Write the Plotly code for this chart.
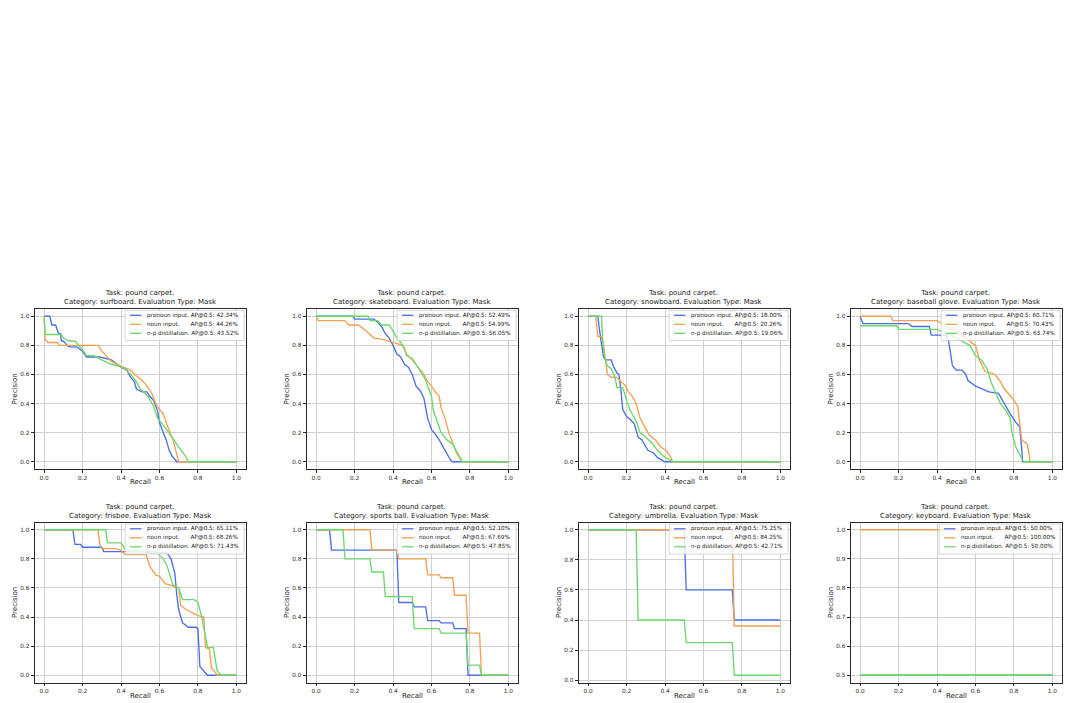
import plotly.graph_objects as go

# ---------------- data ----------------
task_name = "pound carpet"
categories = ["surfboard", "skateboard", "snowboard", "baseball glove",
              "frisbee", "sports ball", "umbrella", "keyboard"]
series_names = ["pronoun input.", "noun input.", "n-p distillation."]

ap_pronoun = [42.34, 52.49, 18.00, 60.71, 65.11, 52.10, 75.25, 50.00]
ap_noun = [44.26, 54.99, 20.26, 70.43, 68.26, 67.69, 84.25, 100.00]
ap_np = [43.52, 56.05, 19.06, 63.74, 71.43, 47.85, 42.71, 50.00]

# surfboard
surfboard_pronoun_r = [0, 0.03, 0.04, 0.06, 0.075, 0.085, 0.09, 0.1, 0.12, 0.13, 0.17, 0.19, 0.2, 0.22, 0.29, 0.35, 0.4, 0.43, 0.45, 0.47, 0.48, 0.51, 0.535, 0.55, 0.57, 0.59, 0.6, 0.62, 0.635, 0.65, 0.665, 0.69, 1.0]
surfboard_pronoun_p = [1.0, 1.0, 0.94, 0.94, 0.88, 0.88, 0.83, 0.83, 0.80, 0.79, 0.79, 0.77, 0.76, 0.72, 0.72, 0.70, 0.65, 0.63, 0.58, 0.55, 0.50, 0.48, 0.48, 0.45, 0.42, 0.35, 0.27, 0.20, 0.15, 0.08, 0.04, 0.0, 0.0]
surfboard_noun_r = [0, 0.005, 0.02, 0.07, 0.08, 0.12, 0.2, 0.28, 0.30, 0.32, 0.33, 0.35, 0.38, 0.41, 0.45, 0.47, 0.5, 0.53, 0.56, 0.58, 0.6, 0.62, 0.64, 0.67, 0.69, 0.70, 1.0]
surfboard_noun_p = [1.0, 0.84, 0.82, 0.82, 0.80, 0.80, 0.80, 0.80, 0.76, 0.73, 0.72, 0.69, 0.67, 0.65, 0.63, 0.60, 0.57, 0.53, 0.47, 0.40, 0.36, 0.33, 0.25, 0.15, 0.05, 0.0, 0.0]
surfboard_np_r = [0, 0.005, 0.09, 0.1, 0.13, 0.16, 0.18, 0.2, 0.22, 0.26, 0.3, 0.33, 0.38, 0.42, 0.45, 0.48, 0.5, 0.54, 0.57, 0.59, 0.62, 0.66, 0.7, 0.74, 0.75, 1.0]
surfboard_np_p = [1.0, 0.875, 0.875, 0.85, 0.83, 0.83, 0.80, 0.77, 0.73, 0.73, 0.70, 0.68, 0.66, 0.64, 0.60, 0.55, 0.50, 0.45, 0.38, 0.30, 0.25, 0.18, 0.10, 0.03, 0.0, 0.0]

# skateboard
skateboard_pronoun_r = [0, 0.19, 0.2, 0.3, 0.32, 0.34, 0.36, 0.38, 0.40, 0.42, 0.44, 0.46, 0.48, 0.5, 0.52, 0.54, 0.56, 0.57, 0.58, 0.6, 0.62, 0.64, 0.66, 0.68, 0.7, 0.71, 1.0]
skateboard_pronoun_p = [1.0, 1.0, 0.98, 0.98, 0.96, 0.93, 0.88, 0.85, 0.80, 0.74, 0.72, 0.67, 0.65, 0.60, 0.52, 0.49, 0.44, 0.38, 0.30, 0.22, 0.19, 0.15, 0.10, 0.05, 0.01, 0.0, 0.0]
skateboard_noun_r = [0, 0.01, 0.15, 0.17, 0.22, 0.26, 0.3, 0.35, 0.4, 0.45, 0.47, 0.5, 0.53, 0.56, 0.58, 0.6, 0.62, 0.64, 0.65, 0.67, 0.69, 0.71, 0.73, 0.75, 0.76, 1.0]
skateboard_noun_p = [1.0, 0.97, 0.97, 0.94, 0.94, 0.90, 0.85, 0.84, 0.82, 0.80, 0.74, 0.70, 0.65, 0.60, 0.55, 0.52, 0.48, 0.45, 0.37, 0.30, 0.20, 0.13, 0.06, 0.02, 0.0, 0.0]
skateboard_np_r = [0, 0.27, 0.28, 0.32, 0.34, 0.38, 0.4, 0.42, 0.44, 0.46, 0.47, 0.5, 0.52, 0.55, 0.57, 0.58, 0.6, 0.61, 0.63, 0.65, 0.68, 0.71, 0.74, 0.75, 0.76, 1.0]
skateboard_np_p = [1.0, 1.0, 0.97, 0.97, 0.94, 0.94, 0.90, 0.85, 0.82, 0.78, 0.73, 0.71, 0.67, 0.60, 0.56, 0.52, 0.45, 0.35, 0.28, 0.20, 0.15, 0.12, 0.05, 0.02, 0.0, 0.0]

# snowboard
snowboard_pronoun_r = [0, 0.05, 0.065, 0.08, 0.09, 0.12, 0.13, 0.15, 0.16, 0.17, 0.18, 0.2, 0.22, 0.24, 0.26, 0.28, 0.31, 0.34, 0.36, 0.40, 1.0]
snowboard_pronoun_p = [1.0, 1.0, 0.85, 0.72, 0.70, 0.70, 0.66, 0.61, 0.60, 0.50, 0.36, 0.31, 0.29, 0.26, 0.17, 0.15, 0.08, 0.06, 0.03, 0.0, 0.0]
snowboard_noun_r = [0, 0.04, 0.05, 0.07, 0.08, 0.10, 0.12, 0.15, 0.17, 0.19, 0.21, 0.23, 0.25, 0.27, 0.29, 0.32, 0.35, 0.38, 0.41, 0.43, 0.44, 1.0]
snowboard_noun_p = [1.0, 1.0, 0.86, 0.86, 0.80, 0.60, 0.58, 0.58, 0.55, 0.53, 0.48, 0.45, 0.40, 0.30, 0.25, 0.18, 0.15, 0.10, 0.07, 0.03, 0.0, 0.0]
snowboard_np_r = [0, 0.07, 0.075, 0.085, 0.10, 0.12, 0.14, 0.15, 0.18, 0.20, 0.22, 0.25, 0.27, 0.30, 0.33, 0.36, 0.39, 0.44, 1.0]
snowboard_np_p = [1.0, 1.0, 0.85, 0.72, 0.66, 0.64, 0.58, 0.51, 0.51, 0.42, 0.35, 0.28, 0.20, 0.17, 0.13, 0.08, 0.04, 0.0, 0.0]

# baseball glove
glove_pronoun_r = [0, 0.015, 0.25, 0.27, 0.36, 0.37, 0.45, 0.46, 0.47, 0.48, 0.5, 0.53, 0.55, 0.56, 0.6, 0.64, 0.67, 0.72, 0.74, 0.76, 0.78, 0.81, 0.83, 0.84, 0.845, 1.0]
glove_pronoun_p = [1.0, 0.95, 0.95, 0.93, 0.93, 0.87, 0.87, 0.83, 0.75, 0.66, 0.63, 0.63, 0.60, 0.56, 0.52, 0.50, 0.48, 0.47, 0.42, 0.38, 0.33, 0.27, 0.24, 0.10, 0.0, 0.0]
glove_noun_r = [0, 0.16, 0.17, 0.4, 0.45, 0.5, 0.55, 0.6, 0.62, 0.65, 0.7, 0.73, 0.75, 0.79, 0.82, 0.84, 0.87, 0.885, 1.0]
glove_noun_p = [1.0, 1.0, 0.97, 0.97, 0.93, 0.90, 0.85, 0.80, 0.70, 0.62, 0.60, 0.55, 0.50, 0.44, 0.38, 0.15, 0.12, 0.0, 0.0]
glove_np_r = [0, 0.19, 0.2, 0.4, 0.45, 0.5, 0.57, 0.6, 0.63, 0.66, 0.68, 0.71, 0.73, 0.76, 0.78, 0.79, 0.81, 0.83, 0.85, 1.0]
glove_np_p = [0.935, 0.935, 0.91, 0.91, 0.88, 0.85, 0.80, 0.73, 0.70, 0.64, 0.55, 0.46, 0.40, 0.35, 0.30, 0.20, 0.10, 0.05, 0.0, 0.0]

# frisbee
frisbee_pronoun_r = [0, 0.15, 0.16, 0.19, 0.2, 0.3, 0.31, 0.52, 0.55, 0.64, 0.66, 0.68, 0.69, 0.7, 0.72, 0.75, 0.79, 0.80, 0.81, 0.83, 0.85, 1.0]
frisbee_pronoun_p = [1.0, 1.0, 0.90, 0.90, 0.88, 0.88, 0.85, 0.85, 0.84, 0.84, 0.80, 0.70, 0.55, 0.45, 0.36, 0.33, 0.33, 0.32, 0.06, 0.03, 0.0, 0.0]
frisbee_noun_r = [0, 0.28, 0.29, 0.30, 0.37, 0.40, 0.42, 0.53, 0.55, 0.58, 0.60, 0.63, 0.68, 0.70, 0.71, 0.74, 0.77, 0.80, 0.83, 0.84, 0.86, 0.87, 0.89, 0.90, 1.0]
frisbee_noun_p = [1.0, 1.0, 0.90, 0.87, 0.87, 0.86, 0.83, 0.83, 0.75, 0.69, 0.68, 0.63, 0.61, 0.60, 0.48, 0.45, 0.43, 0.41, 0.40, 0.19, 0.18, 0.05, 0.02, 0.0, 0.0]
frisbee_np_r = [0, 0.32, 0.33, 0.40, 0.42, 0.45, 0.58, 0.62, 0.64, 0.67, 0.70, 0.72, 0.78, 0.80, 0.82, 0.85, 0.88, 0.90, 0.92, 1.0]
frisbee_np_p = [1.0, 1.0, 0.91, 0.91, 0.87, 0.85, 0.85, 0.80, 0.75, 0.62, 0.60, 0.52, 0.52, 0.50, 0.40, 0.19, 0.19, 0.03, 0.0, 0.0]

# sports ball
ball_pronoun_r = [0, 0.07, 0.08, 0.42, 0.43, 0.50, 0.51, 0.57, 0.58, 0.64, 0.65, 0.71, 0.72, 0.78, 0.79, 1.0]
ball_pronoun_p = [1.0, 1.0, 0.86, 0.86, 0.50, 0.50, 0.47, 0.47, 0.375, 0.375, 0.36, 0.36, 0.32, 0.32, 0.0, 0.0]
ball_noun_r = [0, 0.28, 0.29, 0.42, 0.43, 0.57, 0.58, 0.64, 0.65, 0.71, 0.72, 0.78, 0.79, 0.85, 0.86, 1.0]
ball_noun_p = [1.0, 1.0, 0.86, 0.86, 0.80, 0.80, 0.69, 0.69, 0.67, 0.67, 0.55, 0.55, 0.29, 0.29, 0.0, 0.0]
ball_np_r = [0, 0.14, 0.15, 0.28, 0.29, 0.35, 0.36, 0.50, 0.51, 0.64, 0.65, 0.78, 0.79, 0.85, 0.86, 1.0]
ball_np_p = [1.0, 1.0, 0.80, 0.80, 0.71, 0.71, 0.54, 0.54, 0.32, 0.32, 0.29, 0.29, 0.07, 0.07, 0.0, 0.0]

# umbrella
umbrella_pronoun_r = [0, 0.50, 0.51, 0.75, 0.76, 1.0]
umbrella_pronoun_p = [1.0, 1.0, 0.60, 0.60, 0.40, 0.40]
umbrella_noun_r = [0, 0.75, 0.76, 1.0]
umbrella_noun_p = [1.0, 1.0, 0.36, 0.36]
umbrella_np_r = [0, 0.25, 0.26, 0.50, 0.51, 0.75, 0.76, 1.0]
umbrella_np_p = [1.0, 1.0, 0.40, 0.40, 0.25, 0.25, 0.033, 0.033]

# keyboard
keyboard_pronoun_r = [0, 1.0]
keyboard_pronoun_p = [0.5, 0.5]
keyboard_noun_r = [0, 1.0]
keyboard_noun_p = [1.0, 1.0]
keyboard_np_r = [0, 1.0]
keyboard_np_p = [0.5, 0.5]

x_ticks = [0.0, 0.2, 0.4, 0.6, 0.8, 1.0]
y_ticks = [0.0, 0.2, 0.4, 0.6, 0.8, 1.0]
y_ticks_keyboard = [0.5, 0.6, 0.7, 0.8, 0.9, 1.0]

curves = [
    [(surfboard_pronoun_r, surfboard_pronoun_p), (surfboard_noun_r, surfboard_noun_p), (surfboard_np_r, surfboard_np_p)],
    [(skateboard_pronoun_r, skateboard_pronoun_p), (skateboard_noun_r, skateboard_noun_p), (skateboard_np_r, skateboard_np_p)],
    [(snowboard_pronoun_r, snowboard_pronoun_p), (snowboard_noun_r, snowboard_noun_p), (snowboard_np_r, snowboard_np_p)],
    [(glove_pronoun_r, glove_pronoun_p), (glove_noun_r, glove_noun_p), (glove_np_r, glove_np_p)],
    [(frisbee_pronoun_r, frisbee_pronoun_p), (frisbee_noun_r, frisbee_noun_p), (frisbee_np_r, frisbee_np_p)],
    [(ball_pronoun_r, ball_pronoun_p), (ball_noun_r, ball_noun_p), (ball_np_r, ball_np_p)],
    [(umbrella_pronoun_r, umbrella_pronoun_p), (umbrella_noun_r, umbrella_noun_p), (umbrella_np_r, umbrella_np_p)],
    [(keyboard_pronoun_r, keyboard_pronoun_p), (keyboard_noun_r, keyboard_noun_p), (keyboard_np_r, keyboard_np_p)],
]
ap_values = list(zip(ap_pronoun, ap_noun, ap_np))

# ---------------- styling ----------------
W, H = 1066, 703
COLORS = ["#4a6fe3", "#f4a052", "#6cd86c"]
FONT = "DejaVu Sans"
TXT = "#1a1a1a"
col_left = [34.5, 306.5, 578.5, 850.5]
row_top = [309.0, 522.5]
AX_W, AX_H = 211.5, 160.0
NB = "\u00a0"
label_pad = [NB, NB * 6, NB]


def px(x):
    return x / W


def py(y):
    return 1 - y / H


def y_range(vals):
    lo = min(min(p) for _, p in vals)
    hi = max(max(p) for _, p in vals)
    m = (hi - lo) * 0.05
    return [lo - m, hi + m]


fig = go.Figure()
shapes = []
annotations = []
layout_axes = {}

for i, cat in enumerate(categories):
    r, c = divmod(i, 4)
    n = "" if i == 0 else str(i + 1)
    L, T = col_left[c], row_top[r]
    R, B = L + AX_W, T + AX_H

    for k in range(3):
        rec, prec = curves[i][k]
        fig.add_trace(go.Scatter(
            x=rec, y=prec, mode="lines", xaxis="x" + n, yaxis="y" + n,
            line=dict(color=COLORS[k], width=1.35), showlegend=False,
            hoverinfo="skip"))

    yr = y_range(curves[i])
    yt = y_ticks_keyboard if cat == "keyboard" else y_ticks
    common = dict(showline=True, mirror=True, linecolor="#2a2a2a", linewidth=0.9,
                  ticks="outside", ticklen=3, tickwidth=0.8, tickcolor="#2a2a2a",
                  showgrid=True, gridcolor="#d0d0d0", gridwidth=1, zeroline=False,
                  tickfont=dict(family=FONT, size=5.8, color="#2a2a2a"),
                  tickformat=".1f", fixedrange=True)
    layout_axes["xaxis" + n] = dict(domain=[px(L), px(R)], anchor="y" + n,
                                    range=[-0.05, 1.05], tickvals=x_ticks, **common)
    layout_axes["yaxis" + n] = dict(domain=[py(B), py(T)], anchor="x" + n,
                                    range=yr, tickvals=yt, **common)

    # title
    annotations.append(dict(
        text=f"Task: {task_name}.<br>Category: {cat}. Evaluation Type: Mask",
        x=px((L + R) / 2), y=py(T - 1), xref="paper", yref="paper",
        xanchor="center", yanchor="bottom", showarrow=False,
        font=dict(family=FONT, size=7.0, color=TXT)))
    # axis labels
    annotations.append(dict(text="Recall", x=px((L + R) / 2), y=py(B + 13),
                            xref="paper", yref="paper", xanchor="center",
                            yanchor="middle", showarrow=False,
                            font=dict(family=FONT, size=7.0, color=TXT)))
    annotations.append(dict(text="Precision", x=px(L - 20), y=py((T + B) / 2),
                            xref="paper", yref="paper", xanchor="center",
                            yanchor="middle", textangle=-90, showarrow=False,
                            font=dict(family=FONT, size=7.0, color=TXT)))

    # legend box
    bw = 121 if max(ap_values[i]) >= 100 else 119
    br, bt = R - 1.8, T + 1.5
    bl, bb = br - bw, bt + 30
    shapes.append(dict(type="rect", xref="paper", yref="paper",
                       x0=px(bl), x1=px(br), y0=py(bb), y1=py(bt),
                       fillcolor="rgba(255,255,255,0.8)",
                       line=dict(color="#cccccc", width=0.8), layer="above"))
    for k in range(3):
        yy = bt + 4.8 + 9 * k
        shapes.append(dict(type="line", xref="paper", yref="paper",
                           x0=px(bl + 4.7), x1=px(bl + 16.3), y0=py(yy), y1=py(yy),
                           line=dict(color=COLORS[k], width=1.3), layer="above"))
        label = f"{series_names[k]}{label_pad[k]}AP@0.5: {ap_values[i][k]:.2f}%"
        annotations.append(dict(text=label, x=px(bl + 19.5), y=py(yy),
                                xref="paper", yref="paper", xanchor="left",
                                yanchor="middle", showarrow=False,
                                font=dict(family=FONT, size=5.7, color=TXT)))

fig.update_layout(
    width=W, height=H, margin=dict(l=0, r=0, t=0, b=0),
    paper_bgcolor="white", plot_bgcolor="white",
    showlegend=False, shapes=shapes, annotations=annotations,
    **layout_axes)

fig.write_html("out.html")
